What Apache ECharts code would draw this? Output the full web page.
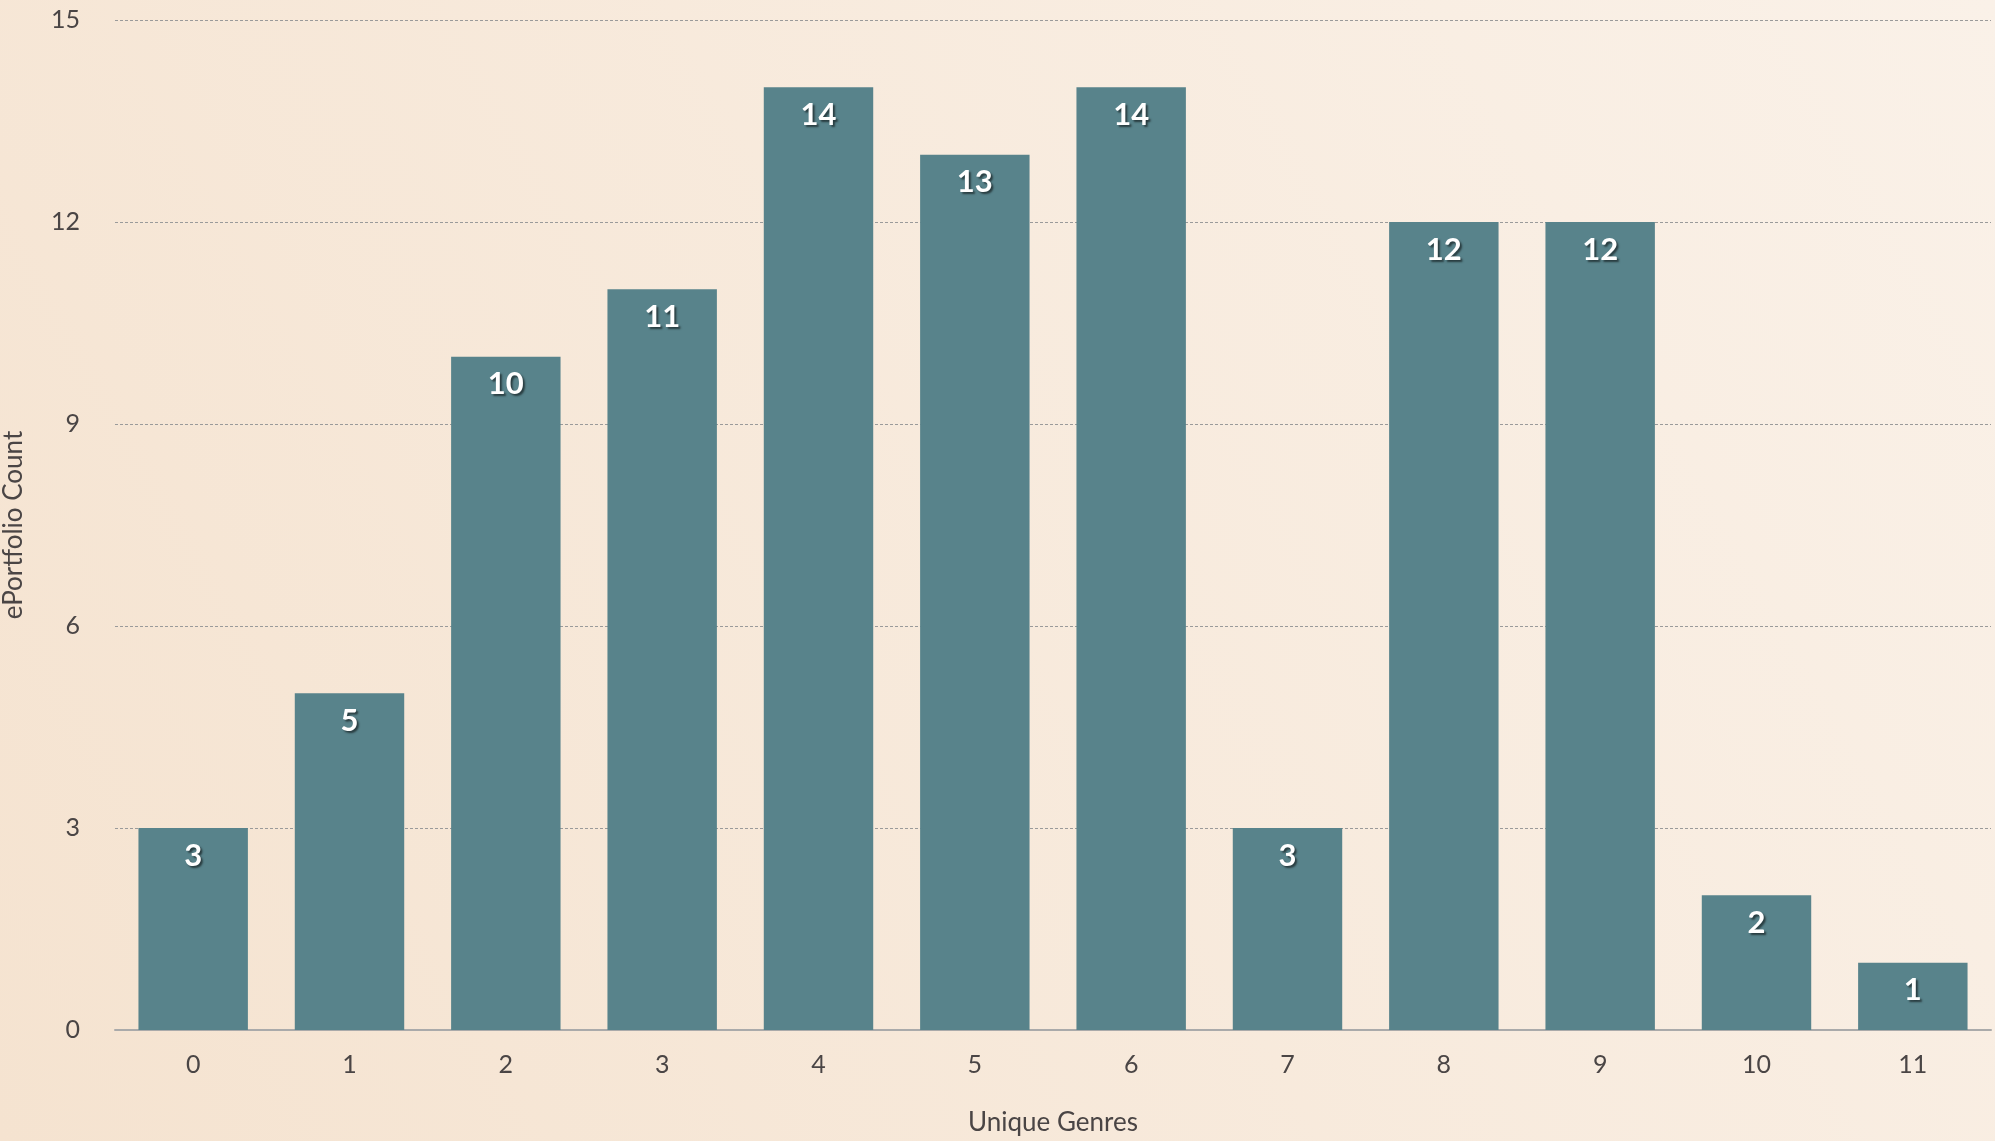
<!DOCTYPE html>
<html>
<head>
<meta charset="utf-8">
<script src="https://cdn.jsdelivr.net/npm/echarts@6/dist/echarts.min.js"></script>
<style>html,body{margin:0;padding:0;}#c{width:1995px;height:1141px;}</style>
</head>
<body>
<div id="c"></div>
<script>
const categories = ['0','1','2','3','4','5','6','7','8','9','10','11'];
const counts = [3, 5, 10, 11, 14, 13, 14, 3, 12, 12, 2, 1];
const xName = 'Unique Genres';
const yName = 'ePortfolio Count';

const chart = echarts.init(document.getElementById('c'));
chart.setOption({
  backgroundColor: {
    type: 'linear', x: 0, y: 1, x2: 1, y2: 0,
    colorStops: [
      {offset: 0, color: '#f5e3d0'},
      {offset: 1, color: '#faf1e8'}
    ]
  },
  animation: false,
  grid: {left: 115, right: 4, top: 20, bottom: 111, containLabel: false, outerBoundsMode: 'none'},
  xAxis: {
    type: 'category',
    data: categories,
    name: xName,
    nameLocation: 'middle',
    nameGap: 80,
    nameTextStyle: {color: '#4a4545', fontSize: 26, fontFamily: 'Lato'},
    axisLine: {lineStyle: {color: '#aaaaaa', width: 2}},
    axisTick: {show: false},
    axisLabel: {color: '#4a4545', fontSize: 25, fontFamily: 'Lato', margin: 22}
  },
  yAxis: {
    type: 'value',
    min: 0, max: 15, interval: 3,
    name: yName,
    nameLocation: 'middle',
    nameGap: 88,
    nameTextStyle: {color: '#4a4545', fontSize: 26, fontFamily: 'Lato'},
    axisLine: {show: false},
    axisTick: {show: false},
    axisLabel: {color: '#4a4545', fontSize: 25, fontFamily: 'Lato', margin: 35},
    splitLine: {lineStyle: {color: '#9a9a9a', type: [3, 2], width: 1}}
  },
  series: [{
    type: 'bar',
    data: counts,
    barCategoryGap: '30%',
    itemStyle: {color: '#58838b'},
    label: {
      show: true,
      position: 'insideTop',
      distance: 12,
      color: '#ffffff',
      fontSize: 31,
      fontWeight: 'bold',
      fontFamily: 'Lato',
      textShadowColor: 'rgba(0,0,0,0.55)',
      textShadowBlur: 2,
      textShadowOffsetX: 2,
      textShadowOffsetY: 2
    }
  }]
});
</script>
</body>
</html>
